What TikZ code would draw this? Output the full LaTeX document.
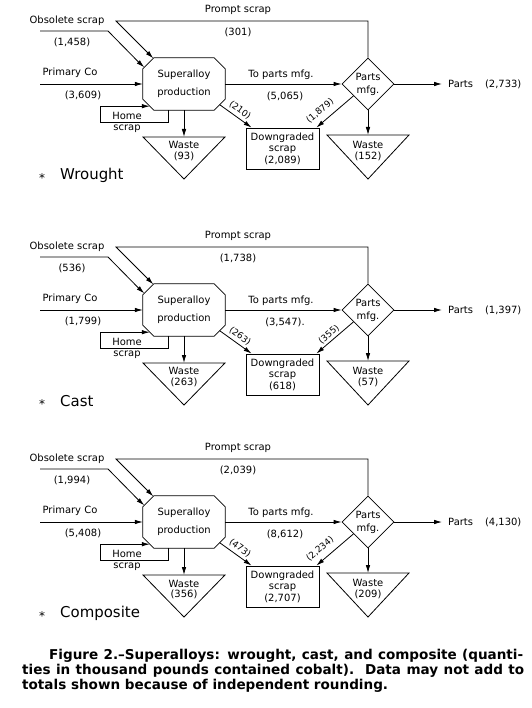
\documentclass[tikz,border=0pt]{standalone}
\usepackage{fontspec}
\usetikzlibrary{shapes.geometric,arrows.meta,calc}
\newfontfamily\cadfont{DejaVu Sans}
\newfontfamily\capfont{DejaVu Sans}
\tikzset{
  ln/.style={line width=0.8bp, line join=miter},
  arr/.style={line width=0.8bp, -{Latex[length=8bp,width=4.5bp]}},
  lbl/.style={inner sep=0pt, font=\cadfont\fontsize{10}{12}\selectfont},
  smalllbl/.style={inner sep=0pt, font=\cadfont\fontsize{9}{9}\selectfont},
  capline/.style={anchor=base west, inner sep=0pt, font=\capfont\bfseries\fontsize{13.6}{15}\selectfont}
}
\newcommand\flowpanel[2]{%
\begin{scope}[shift={(0,#1)}, name prefix=#2-]
  % nodes
  \node[lbl] (obsT) at (67,21) {Obsolete scrap};
  \node[lbl] (obsN) at (72,42) {\vObs};
  \node[lbl] (prmT) at (238,10) {Prompt scrap};
  \node[lbl] (prmN) at (238,32) {\vPrm};
  \node[lbl] (priT) at (70,73) {Primary Co};
  \node[lbl] (priN) at (83,95) {\vPri};
  \node[lbl, align=center, font=\cadfont\fontsize{10}{18}\selectfont,
        minimum width=82bp, minimum height=52bp] (sp) at (184,84) {Superalloy\\production};
  \draw[ln] ([xshift=11bp]sp.north west) -- ([xshift=-11bp]sp.north east)
     -- ([yshift=-11bp]sp.north east) -- ([yshift=11bp]sp.south east)
     -- ([xshift=-11bp]sp.south east) -- ([xshift=11bp]sp.south west)
     -- ([yshift=11bp]sp.south west) -- ([yshift=-11bp]sp.north west) -- cycle;
  \node[diamond, draw, ln, minimum width=52bp, minimum height=52bp, inner sep=0pt,
        align=center, font=\cadfont\fontsize{10}{13}\selectfont] (pm) at (368,84) {Parts\\mfg.};
  \node[lbl] (toT) at (281,75) {To parts mfg.};
  \node[lbl] (toN) at (285,96) {\vTo};
  \node[lbl, anchor=west] (po) at (448,84) {Parts\hspace{12bp}\vParts};
  \node[draw, ln, minimum width=73bp, minimum height=41bp, inner sep=0pt, align=center,
        font=\cadfont\fontsize{10}{11.5}\selectfont] (dg) at (282.5,148.5) {Downgraded\\scrap\\\vDg};
  \node[lbl] (homeT) at (127,115.5) {Home};
  \node[lbl] (homeS) at (127,129) {scrap};
  \node[lbl, align=center, font=\cadfont\fontsize{10}{11}\selectfont] (wa) at (184,151.5) {Waste\\\vWa};
  \node[lbl, align=center, font=\cadfont\fontsize{10}{11}\selectfont] (wb) at (368,151) {Waste\\\vWb};
  \node[lbl] (star) at (42,178) {\fontsize{12}{12}\selectfont *};
  \node[lbl, anchor=west, font=\cadfont\fontsize{15}{15}\selectfont] (kind) at (60,175) {\vKind};
  % coordinates
  \coordinate (obs0) at (40,31);
  \coordinate (obs1) at (108,31);
  \coordinate (spOb) at ([xshift=1.5bp,yshift=-9.5bp]sp.north west);
  \coordinate (prm1) at (116,21);
  \coordinate (spPr) at ([xshift=10.5bp,yshift=-0.5bp]sp.north west);
  \coordinate (pri0) at (40,84);
  \coordinate (hs1) at (100,122);
  \coordinate (spHs) at ([xshift=7bp,yshift=4bp]sp.south west);
  \coordinate (waTop) at (184,137);
  \coordinate (wbTop) at (368,135);
  \coordinate (spLr) at ([xshift=-5.5bp,yshift=5.5bp]sp.south east);
  \coordinate (pmLl) at ($(pm.west)!0.45!(pm.south)$);
  % triangles
  \draw[ln] ([xshift=-41bp]waTop) -- ([xshift=41bp]waTop) -- ([yshift=-42bp]waTop) -- cycle;
  \draw[ln] ([xshift=-41bp]wbTop) -- ([xshift=41bp]wbTop) -- ([yshift=-44bp]wbTop) -- cycle;
  % connectors
  \draw[arr] (obs0) -- (obs1) -- (spOb);
  \draw[arr] (pm.north) |- (prm1) -- (spPr);
  \draw[arr] (pri0) -- (sp.west);
  \draw[arr] ([xshift=-16bp]sp.south) |- (hs1) |- (spHs);
  \draw[arr] (sp.south) -- (waTop);
  \draw[arr] (sp.east) -- (pm.west);
  \draw[arr] (pm.east) -- ([xshift=-6bp]po.west);
  \draw[arr] (pm.south) -- (wbTop);
  \draw[arr] (spLr) -- node[smalllbl, sloped, pos=0.5, above=3bp] {\vDa} ([xshift=6bp]dg.north west);
  \draw[arr] (pmLl) -- node[smalllbl, sloped, pos=\vDbPos, above=\vDbSep] {\vDb} ([xshift=-3bp]dg.north east);
\end{scope}}
\begin{document}
\begin{tikzpicture}[x=1bp,y=-1bp]
\useasboundingbox (0,0) rectangle (532,708);
\fill[white] (0,0) rectangle (532,708);
% Wrought
\def\vObs{(1,458)}\def\vPrm{(301)}\def\vPri{(3,609)}\def\vTo{(5,065)}
\def\vParts{(2,733)}\def\vWa{(93)}\def\vDa{(210)}\def\vDb{(1,879)}
\def\vDg{(2,089)}\def\vWb{(152)}\def\vKind{Wrought}
\def\vDbPos{0.72}\def\vDbSep{6bp}
\flowpanel{0}{a}
% Cast
\def\vObs{(536)}\def\vPrm{(1,738)}\def\vPri{(1,799)}\def\vTo{(3,547).}
\def\vParts{(1,397)}\def\vWa{(263)}\def\vDa{(263)}\def\vDb{(355)}
\def\vDg{(618)}\def\vWb{(57)}\def\vKind{Cast}
\def\vDbPos{0.55}\def\vDbSep{2bp}
\flowpanel{226}{b}
% Composite
\def\vObs{(1,994)}\def\vPrm{(2,039)}\def\vPri{(5,408)}\def\vTo{(8,612)}
\def\vParts{(4,130)}\def\vWa{(356)}\def\vDa{(473)}\def\vDb{(2,234)}
\def\vDg{(2,707)}\def\vWb{(209)}\def\vKind{Composite}
\def\vDbPos{0.72}\def\vDbSep{6bp}
\flowpanel{438}{c}
% caption
\node[capline] (cap1) at (49,659) {\makebox[474bp][s]{Figure 2.–Superalloys: wrought, cast, and composite (quanti-}};
\node[capline] (cap2) at (22,674) {\makebox[502bp][s]{ties in thousand pounds contained cobalt).\ \ Data may not add to}};
\node[capline] (cap3) at (22,689) {totals shown because of independent rounding.};
\end{tikzpicture}
\end{document}
